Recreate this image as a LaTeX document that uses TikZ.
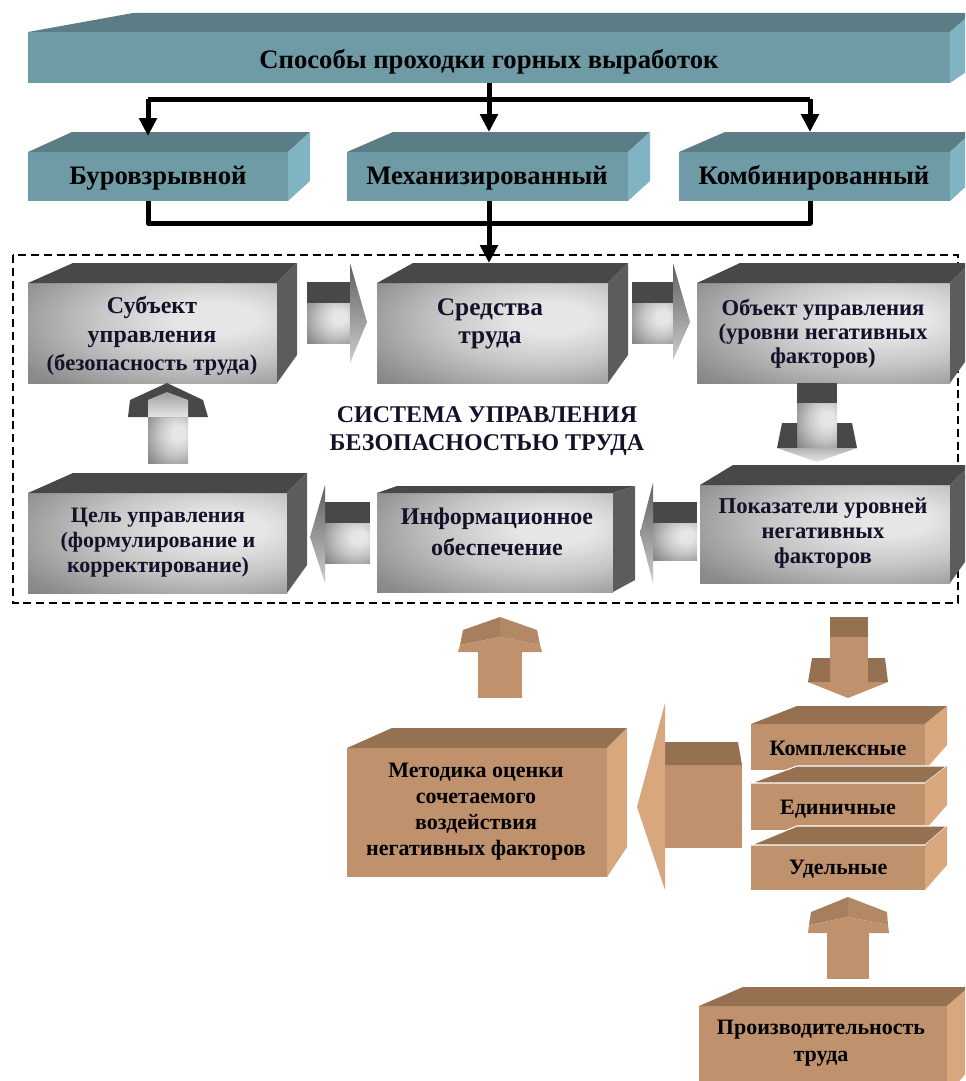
\documentclass[tikz,border=0pt]{standalone}
\usepackage{fontspec}
\setmainfont{Liberation Serif}
\usetikzlibrary{calc,arrows.meta}
\definecolor{tealF}{RGB}{111,155,167}
\definecolor{tealT}{RGB}{91,125,134}
\definecolor{tealR}{RGB}{128,180,194}
\definecolor{brF}{RGB}{192,145,109}
\definecolor{brT}{RGB}{149,113,82}
\definecolor{brR}{RGB}{217,167,125}
\definecolor{brH}{RGB}{168,127,94}
\definecolor{brH2}{RGB}{178,136,101}
\definecolor{gT}{RGB}{72,72,72}
\definecolor{gR}{RGB}{92,92,92}
\definecolor{gL}{RGB}{230,230,230}
\definecolor{gM}{RGB}{198,198,198}
\definecolor{gN}{RGB}{140,140,140}
\definecolor{gD}{RGB}{100,100,100}
\definecolor{gE}{RGB}{80,80,80}
\definecolor{hdA}{RGB}{95,95,95}
\definecolor{hdB}{RGB}{205,205,205}
\definecolor{ink}{RGB}{18,18,42}
\pgfdeclareradialshading{glow}{\pgfpoint{14bp}{8bp}}{color(0bp)=(gL); color(8bp)=(gL); color(22bp)=(gM); color(40bp)=(gN); color(62bp)=(gD); color(95bp)=(gE)}
\newcommand{\frontnode}[6]{\node[#6, minimum width={(#4-(#2))*0.75pt}, minimum height={(#5-(#3))*0.75pt}] (#1) at ({(#2+#4)/2},{(#3+#5)/2}) {};}
\newcommand{\faces}[7]{%
  \fill[#6] (#1.north west) -- ++(#2,-#4) -- ($(#1.north east)+(#3,-#4)$) -- (#1.north east) -- cycle;
  \fill[#7] (#1.north east) -- ++(#3,-#4) -- ($(#1.south east)+(#3,-#5)$) -- (#1.south east) -- cycle;}
\tikzset{
  face/.style={inner sep=0pt, outer sep=0pt, draw=none},
  tealbox/.style={face, fill=tealF},
  graybox/.style={face, shading=glow},
  brbox/.style={face, fill=brF},
  lbl/.style={inner sep=0pt, align=center},
  tl/.style={lbl, text=black, font=\fontsize{20}{24}\selectfont\bfseries},
  gl/.style={lbl, text=ink},
  bl/.style={lbl, text=black},
  conn/.style={line width=3.75pt, line join=round, draw=black},
  tipped/.style={-{Triangle[width=13pt,length=13.5pt]}},
  border/.style={dash pattern=on 6pt off 3.6pt, line width=1.8pt},
  gap/.style={draw=white, line width=0.8pt},
}
\begin{document}
\begin{tikzpicture}[x=0.75pt,y=-0.75pt]
\useasboundingbox (0,0) rectangle (965,1081);
\clip (0,0) rectangle (965,1081);

% ---------- teal level ----------
\frontnode{top}{28}{32}{950}{83}{tealbox}
\faces{top}{105}{22}{19}{15}{tealT}{tealR}
\node[tl] (top-t) at (489,62) {Способы проходки горных выработок};

\frontnode{buro}{28}{152}{288}{201}{tealbox}
\faces{buro}{44}{22}{20}{20}{tealT}{tealR}
\node[tl] (buro-t) at (158,178) {Буровзрывной};

\frontnode{mech}{347}{152}{628}{201}{tealbox}
\faces{mech}{46}{22}{20}{20}{tealT}{tealR}
\node[tl] (mech-t) at (487,178) {Механизированный};

\frontnode{komb}{679}{152}{950}{201}{tealbox}
\faces{komb}{46}{22}{20}{20}{tealT}{tealR}
\node[tl] (komb-t) at (814,178) {Комбинированный};

% ---------- connectors ----------
\coordinate (split) at (489,99);
\coordinate (buroIn) at (148,136);
\coordinate (mechIn) at (489,132);
\coordinate (kombIn) at (810,132);
\coordinate (join) at (489,223);
\coordinate (sredIn) at (489,263);
\draw[conn] (split -| buroIn) -- (split -| kombIn);
\draw[conn,tipped] (top.south) -- (mechIn);
\draw[conn,tipped] (split -| buroIn) -- (buroIn);
\draw[conn,tipped] (split -| kombIn) -- (kombIn);
\draw[conn] (buro.south -| buroIn) |- (join);
\draw[conn] (komb.south -| kombIn) |- (join);

% ---------- dashed system frame ----------
\draw[border] (13,255) rectangle (958,603);
\draw[conn,tipped] (mech.south -| join) -- (sredIn);

% ---------- gray boxes ----------
\frontnode{subj}{28}{283}{277}{383}{graybox}
\faces{subj}{45}{20}{20}{28}{gT}{gR}
\node[gl, font=\fontsize{18}{21.5}\selectfont\bfseries] (subj-t) at (152,336) {Субъект\\управления\\{\fontsize{17}{21.5}\selectfont (безопасность труда)}};

\frontnode{sred}{377}{283}{608}{383}{graybox}
\faces{sred}{36}{20}{20}{28}{gT}{gR}
\node[gl, font=\fontsize{19}{21}\selectfont\bfseries] (sred-t) at (490,324) {Средства\\труда};

\frontnode{obj}{697}{283}{950}{383}{graybox}
\faces{obj}{43}{20}{20}{28}{gT}{gR}
\node[gl, font=\fontsize{17}{18.2}\selectfont\bfseries] (obj-t) at (823,334) {Объект управления\\(уровни негативных\\факторов)};

\frontnode{cel}{28}{493}{287}{593}{graybox}
\faces{cel}{45}{20}{20}{28}{gT}{gR}
\node[gl, font=\fontsize{16.5}{18.8}\selectfont\bfseries] (cel-t) at (158,543) {Цель управления\\(формулирование и\\корректирование)};

\frontnode{info}{377}{493}{613}{592}{graybox}
\faces{info}{20}{22}{7}{12}{gT}{gR}
\node[gl, font=\fontsize{18}{23}\selectfont\bfseries] (info-t) at (497,532) {Информационное\\обеспечение};

\frontnode{pok}{700}{485}{950}{583}{graybox}
\faces{pok}{33}{20}{20}{28}{gT}{gR}
\node[gl, font=\fontsize{17}{18.8}\selectfont\bfseries] (pok-t) at (823,533) {Показатели уровней\\негативных\\факторов};

\node[lbl, text=ink, font=\fontsize{18}{21}\selectfont\bfseries] (sys-t) at (487,431) {СИСТЕМА УПРАВЛЕНИЯ\\БЕЗОПАСНОСТЬЮ ТРУДА};

% ---------- gray block arrows ----------
% subj -> sred
\shade[shading=glow] (307,303) rectangle (350,343);
\fill[gT] (307,282) rectangle (350,303);
\shade[top color=hdA, bottom color=hdB] (350,263) -- (367,322) -- (350,363) -- cycle;
% sred -> obj
\shade[shading=glow] (632,303) rectangle (673,343);
\fill[gT] (632,282) rectangle (673,303);
\shade[top color=hdA, bottom color=hdB] (673,263) -- (690,322) -- (673,360) -- cycle;
% obj -> pok (down)
\fill[gT] (797,383) rectangle (837,403);
\shade[shading=glow] (797,403) rectangle (837,448);
\fill[gT] (782,423) -- (777,448) -- (797,448) -- (797,423) -- cycle;
\fill[gT] (837,423) -- (837,448) -- (857,448) -- (852,423) -- cycle;
\shade[top color=gray!60, bottom color=gL] (777,448) -- (817,462) -- (857,448) -- cycle;
% pok -> info (left)
\shade[shading=glow] (653,523) rectangle (697,560);
\fill[gT] (653,502) rectangle (697,523);
\shade[top color=hdA, bottom color=hdB] (653,483) -- (640,533) -- (653,583) -- cycle;
% info -> cel (left)
\shade[shading=glow] (325,523) rectangle (370,563);
\fill[gT] (325,502) rectangle (370,523);
\shade[top color=hdA, bottom color=hdB] (325,485) -- (310,537) -- (325,583) -- cycle;
% cel -> subj (up)
\shade[shading=glow] (148,417) rectangle (188,463);
\fill[gT] (128,417) -- (130,400) -- (167,383) -- (203,400) -- (208,417) -- cycle;
\shade[top color=gray!75, bottom color=gL] (148,417) -- (148,400) -- (167,392) -- (188,400) -- (188,417) -- cycle;

% ---------- brown boxes ----------
\frontnode{met}{347}{748}{607}{877}{brbox}
\faces{met}{45}{20}{20}{30}{brT}{brR}
\node[bl, font=\fontsize{16.5}{19.5}\selectfont\bfseries] (met-t) at (476,812) {Методика оценки\\сочетаемого\\воздействия\\негативных факторов};

\frontnode{kompl}{751}{724}{925}{770}{brbox}
\faces{kompl}{46}{22}{18}{25}{brT}{brR}
\node[bl, font=\fontsize{16.5}{19.5}\selectfont\bfseries] (kompl-t) at (838,748) {Комплексные};

\frontnode{edin}{751}{783}{925}{830}{brbox}
\faces{edin}{46}{22}{17}{25}{brT, gap}{brR}
\node[bl, font=\fontsize{16.5}{19.5}\selectfont\bfseries] (edin-t) at (838,809) {Единичные};

\frontnode{udel}{751}{845}{925}{890}{brbox}
\faces{udel}{46}{22}{19}{25}{brT, gap}{brR}
\node[bl, font=\fontsize{16.5}{19.5}\selectfont\bfseries] (udel-t) at (838,869) {Удельные};

\frontnode{prod}{699}{1006}{947}{1095}{brbox}
\faces{prod}{44}{22}{19}{25}{brT}{brR}
\node[bl, font=\fontsize{16.5}{20}\selectfont\bfseries] (prod-t) at (821,1043) {Производительность\\труда};

% ---------- brown block arrows ----------
% met -> info (up)
\fill[brF] (478,652) rectangle (522,698);
\fill[brH] (463,630) -- (500,617) -- (500,637) -- (460,645) -- cycle;
\fill[brH2] (500,617) -- (537,630) -- (540,645) -- (500,637) -- cycle;
\fill[brF] (458,652) -- (460,645) -- (500,637) -- (540,645) -- (542,652) -- cycle;
% -> stack (down)
\fill[brT] (830,617) rectangle (868,637);
\fill[brF] (830,637) rectangle (868,682);
\fill[brT] (812,658) -- (808,682) -- (830,682) -- (830,658) -- cycle;
\fill[brT] (868,658) -- (868,682) -- (888,682) -- (885,658) -- cycle;
\fill[brF] (808,682) -- (848,698) -- (888,682) -- cycle;
% stack -> met (left)
\fill[brF] (665,765) rectangle (742,848);
\fill[brT] (665,742) -- (738,742) -- (742,765) -- (665,765) -- cycle;
\fill[brR] (665,703) -- (637,807) -- (665,890) -- cycle;
% prod -> udel (up)
\fill[brF] (827,933) rectangle (869,979);
\fill[brH] (811,912) -- (848,897) -- (848,917) -- (809,925) -- cycle;
\fill[brH2] (848,897) -- (887,912) -- (888,925) -- (848,917) -- cycle;
\fill[brF] (808,933) -- (809,925) -- (848,917) -- (888,925) -- (889,933) -- cycle;
\end{tikzpicture}
\end{document}
